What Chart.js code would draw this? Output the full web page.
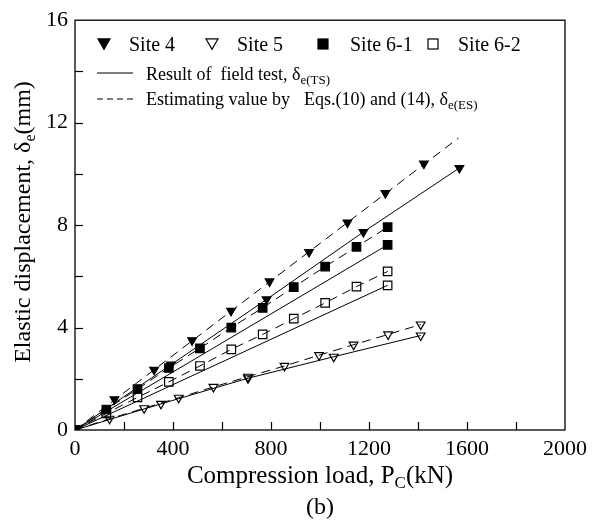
<!DOCTYPE html>
<html><head><meta charset="utf-8">
<script src="https://cdn.jsdelivr.net/npm/chart.js@4.4.0/dist/chart.umd.min.js"></script>
<style>html,body{margin:0;padding:0;background:#fff;}#wrap{width:593px;height:525px;}</style>
</head><body><div id="wrap"><canvas id="c" width="593" height="525"></canvas></div>
<script>
// ---------- data ----------
const xTickLabels = [0, 400, 800, 1200, 1600, 2000];
const yTickLabels = [0, 4, 8, 12, 16];

// Site 4
const site4TestLoad = [0, 392, 782, 1177, 1569];
const site4TestDisp = [0, 2.55, 5.1, 7.73, 10.23];
const site4EstLoad  = [0, 161, 323, 478, 637, 794, 955, 1112, 1267, 1424];
const site4EstDisp  = [0, 1.2, 2.35, 3.5, 4.65, 5.8, 6.95, 8.1, 9.25, 10.4];
const site4EstLineLoad = [0, 1565];
const site4EstLineDisp = [0, 11.4];
// Site 5
const site5TestLoad = [0, 351, 706, 1056, 1411];
const site5TestDisp = [0, 1.02, 2.02, 2.86, 3.69];
const site5EstLoad  = [0, 141, 282, 423, 565, 706, 855, 996, 1137, 1278, 1411];
const site5EstDisp  = [0, 0.44, 0.85, 1.26, 1.68, 2.08, 2.5, 2.92, 3.33, 3.73, 4.12];
// Site 6-1
const site61TestLoad = [0, 1276];
const site61TestDisp = [0, 7.23];
const site61EstLoad  = [0, 128, 255, 383, 510, 638, 766, 893, 1021, 1149, 1276];
const site61EstDisp  = [0, 0.8, 1.6, 2.42, 3.19, 4.0, 4.77, 5.58, 6.38, 7.15, 7.92];
// Site 6-2
const site62TestLoad = [0, 1276];
const site62TestDisp = [0, 5.65];
const site62EstLoad  = [0, 128, 255, 383, 510, 638, 766, 893, 1021, 1149, 1276];
const site62EstDisp  = [0, 0.65, 1.27, 1.88, 2.5, 3.15, 3.73, 4.35, 4.96, 5.6, 6.19];

const FONT = "'Liberation Serif', 'Times New Roman', serif";
const DASH = [9, 6];

function pts(xs, ys) { return xs.map((x, i) => ({ x: x, y: ys[i] })); }

const TRI = { pointStyle: 'triangle', rotation: 180, pointRadius: 5 };
const SQ  = { pointStyle: 'rect', rotation: 0, pointRadius: 6 };

function ds(data, marker, filled, line, dashed, order) {
  return {
    data: data,
    showLine: line,
    borderColor: '#000',
    borderWidth: 1,
    borderDash: dashed ? DASH : [],
    pointStyle: marker ? marker.pointStyle : 'circle',
    rotation: marker ? marker.rotation : 0,
    pointRadius: marker ? marker.pointRadius : 0,
    pointHoverRadius: marker ? marker.pointRadius : 0,
    pointBackgroundColor: filled ? '#000' : 'rgba(0,0,0,0)',
    pointBorderColor: '#000',
    pointBorderWidth: 1.2,
    fill: false,
    tension: 0,
    order: order
  };
}

const datasets = [
  ds(pts(site4EstLineLoad, site4EstLineDisp), null, false, true, true, 20),
  ds(pts(site4TestLoad, site4TestDisp), TRI, true, true, false, 5),
  ds(pts(site4EstLoad, site4EstDisp), TRI, true, false, false, 6),
  ds(pts(site5TestLoad, site5TestDisp), TRI, false, true, false, 7),
  ds(pts(site5EstLoad, site5EstDisp), TRI, false, true, true, 8),
  ds(pts(site62TestLoad, site62TestDisp), SQ, false, true, false, 3),
  ds(pts(site62EstLoad, site62EstDisp), SQ, false, true, true, 4),
  ds(pts(site61TestLoad, site61TestDisp), SQ, true, true, false, 1),
  ds(pts(site61EstLoad, site61EstDisp), SQ, true, true, true, 2)
];

function textWithSub(ctx, parts, x, y, align) {
  let total = 0;
  parts.forEach(p => { ctx.font = p[1] + 'px ' + FONT; total += ctx.measureText(p[0]).width; });
  let cx = align === 'center' ? x - total / 2 : x;
  ctx.textAlign = 'left';
  ctx.textBaseline = 'alphabetic';
  parts.forEach(p => {
    ctx.font = p[1] + 'px ' + FONT;
    ctx.fillText(p[0], cx, y + (p[2] || 0));
    cx += ctx.measureText(p[0]).width;
  });
  return cx;
}

function drawTri(ctx, x, y, s, filled) {
  ctx.beginPath();
  ctx.moveTo(x - s / 2, y - s * 0.42);
  ctx.lineTo(x + s / 2, y - s * 0.42);
  ctx.lineTo(x, y + s * 0.45);
  ctx.closePath();
  if (filled) { ctx.fill(); }
  ctx.lineWidth = 1.2; ctx.stroke();
}
function drawSq(ctx, x, y, s, filled) {
  if (filled) ctx.fillRect(x - s / 2, y - s / 2, s, s);
  ctx.lineWidth = 1.2; ctx.strokeRect(x - s / 2, y - s / 2, s, s);
}

const decor = {
  id: 'decor',
  afterDraw(chart) {
    const ctx = chart.ctx;
    const a = chart.chartArea;
    const xs = chart.scales.x, ys = chart.scales.y;
    ctx.save();
    ctx.strokeStyle = '#000';
    ctx.fillStyle = '#000';
    ctx.lineWidth = 1.3;
    ctx.setLineDash([]);
    ctx.strokeRect(a.left, a.top, a.right - a.left, a.bottom - a.top);
    ctx.lineWidth = 1.2;
    for (let v = 200; v < 2000; v += 200) {
      const px = Math.round(xs.getPixelForValue(v)) + 0.5;
      ctx.beginPath(); ctx.moveTo(px, a.bottom); ctx.lineTo(px, a.bottom - 8); ctx.stroke();
    }
    for (let v = 2; v < 16; v += 2) {
      const py = Math.round(ys.getPixelForValue(v)) + 0.5;
      ctx.beginPath(); ctx.moveTo(a.left, py); ctx.lineTo(a.left + 8, py); ctx.stroke();
    }
    // axis titles
    textWithSub(ctx, [['Compression load, P', 25, 0], ['C', 17, 5], ['(kN)', 25, 0]], (a.left + a.right) / 2, 483, 'center');
    textWithSub(ctx, [['(b)', 24, 0]], (a.left + a.right) / 2, 514, 'center');
    ctx.save();
    ctx.translate(30, 222);
    ctx.rotate(-Math.PI / 2);
    textWithSub(ctx, [['Elastic displacement, δ', 24, 0], ['e', 16, 5], ['(mm)', 24, 0]], 0, 0, 'center');
    ctx.restore();
    // legend row 1
    drawTri(ctx, 104, 44, 12, true);
    textWithSub(ctx, [['Site 4', 20, 0]], 129, 51, 'left');
    drawTri(ctx, 212, 44, 12, false);
    textWithSub(ctx, [['Site 5', 20, 0]], 237, 51, 'left');
    drawSq(ctx, 323, 44, 10, true);
    textWithSub(ctx, [['Site 6-1', 20, 0]], 350, 51, 'left');
    drawSq(ctx, 433, 44, 10, false);
    textWithSub(ctx, [['Site 6-2', 20, 0]], 458, 51, 'left');
    // legend row 2
    ctx.lineWidth = 1;
    ctx.beginPath(); ctx.moveTo(97, 73); ctx.lineTo(133, 73); ctx.stroke();
    textWithSub(ctx, [['Result of  field test, δ', 18, 0], ['e(TS)', 13, 4]], 146, 80, 'left');
    // legend row 3
    ctx.setLineDash([6, 4]);
    ctx.beginPath(); ctx.moveTo(97, 99); ctx.lineTo(133, 99); ctx.stroke();
    ctx.setLineDash([]);
    textWithSub(ctx, [['Estimating value by', 18, 0]], 146, 105, 'left');
    textWithSub(ctx, [['Eqs.(10) and (14),', 18, 0], [' δ', 18, 0], ['e(ES)', 13, 4]], 304, 105, 'left');
    ctx.restore();
  }
};

new Chart(document.getElementById('c'), {
  type: 'scatter',
  data: { datasets: datasets },
  options: {
    responsive: false,
    animation: false,
    layout: { padding: { left: 0, top: 14, right: 22, bottom: 0 } },
    plugins: { legend: { display: false }, tooltip: { enabled: false }, title: { display: false } },
    scales: {
      x: {
        type: 'linear', min: 0, max: 2000,
        afterFit(s) { s.height = 95; },
        grid: { display: false, drawTicks: false },
        border: { display: false },
        ticks: {
          stepSize: 200, autoSkip: false, maxRotation: 0, padding: 6, color: '#000',
          font: { family: FONT, size: 22 },
          callback: v => (xTickLabels.includes(v) ? String(v) : '')
        }
      },
      y: {
        type: 'linear', min: 0, max: 16,
        afterFit(s) { s.width = 75; },
        grid: { display: false, drawTicks: false },
        border: { display: false },
        ticks: {
          stepSize: 2, autoSkip: false, padding: 7, color: '#000',
          font: { family: FONT, size: 22 },
          callback: v => (yTickLabels.includes(v) ? String(v) : '')
        }
      }
    }
  },
  plugins: [decor]
});
</script>
</body></html>
